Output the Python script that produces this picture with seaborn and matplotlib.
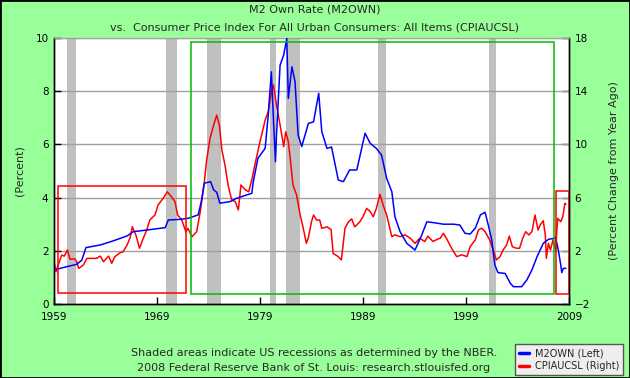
import matplotlib
matplotlib.use("Agg")
import matplotlib.pyplot as plt
import seaborn as sns
from matplotlib.patches import Rectangle
from matplotlib.lines import Line2D

# M2 own rate (left axis, percent)
m2_year = [1959.0, 1960.2, 1961.2, 1961.7, 1962.1, 1963.5, 1964.8, 1966.1, 1966.7, 1968.0,
           1969.8, 1970.1, 1971.2, 1972.0, 1973.0, 1973.3, 1973.6, 1974.2, 1974.5, 1974.8,
           1975.1, 1976.1, 1976.7, 1977.7, 1978.2, 1978.35, 1978.8, 1979.5, 1979.8, 1980.1,
           1980.3, 1980.5, 1980.6, 1980.95, 1981.3, 1981.6, 1981.75, 1982.1, 1982.4, 1982.7,
           1983.05, 1983.7, 1984.2, 1984.7, 1985.0, 1985.5, 1985.95, 1986.6, 1987.1, 1987.7,
           1988.4, 1989.2, 1989.7, 1990.3, 1990.8, 1991.3, 1991.8, 1992.1, 1992.6, 1993.25,
           1994.05, 1994.7, 1995.2, 1996.0, 1996.8, 1997.8, 1998.4, 1998.9, 1999.4, 1999.9,
           2000.4, 2000.85, 2001.2, 2001.5, 2001.8, 2002.1, 2002.8, 2003.3, 2003.6, 2004.4,
           2004.9, 2005.4, 2005.9, 2006.5, 2007.0, 2007.55, 2007.7, 2007.96, 2008.2, 2008.3,
           2008.45, 2008.7]
m2_rate = [1.28, 1.40, 1.49, 1.65, 2.12, 2.22, 2.38, 2.56, 2.72, 2.78,
           2.87, 3.16, 3.18, 3.22, 3.35, 3.85, 4.54, 4.60, 4.29, 4.20,
           3.79, 3.85, 3.97, 4.10, 4.16, 4.60, 5.48, 5.85, 7.10, 8.73,
           7.00, 5.35, 6.35, 8.98, 9.36, 9.99, 7.73, 8.92, 8.36, 6.35,
           5.92, 6.79, 6.85, 7.92, 6.48, 5.85, 5.90, 4.66, 4.60, 5.04,
           5.04, 6.42, 6.04, 5.85, 5.60, 4.72, 4.22, 3.28, 2.72, 2.28,
           2.03, 2.59, 3.09, 3.05, 3.00, 3.00, 2.97, 2.66, 2.63, 2.85,
           3.35, 3.45, 2.91, 2.41, 1.47, 1.18, 1.15, 0.78, 0.65, 0.65,
           0.90, 1.28, 1.78, 2.28, 2.43, 2.47, 2.50, 2.03, 1.47, 1.18,
           1.34, 1.34]

# CPI, percent change from year ago (right axis)
cpi_year = [1959.0, 1959.2, 1959.4, 1959.75, 1960.0, 1960.3, 1960.55, 1961.0, 1961.2, 1961.4,
            1961.85, 1962.2, 1963.1, 1963.5, 1963.8, 1964.3, 1964.6, 1964.9, 1965.4, 1965.7,
            1966.1, 1966.4, 1966.6, 1966.95, 1967.3, 1967.6, 1968.0, 1968.3, 1968.8, 1969.1,
            1969.6, 1970.0, 1970.4, 1970.75, 1971.0, 1971.4, 1971.8, 1972.0, 1972.4, 1972.85,
            1973.2, 1973.6, 1973.8, 1974.15, 1974.5, 1974.8, 1975.05, 1975.3, 1975.6, 1975.9,
            1976.25, 1976.6, 1976.9, 1977.15, 1977.55, 1977.9, 1978.2, 1978.5, 1979.0, 1979.5,
            1979.8, 1980.1, 1980.3, 1980.6, 1980.95, 1981.3, 1981.5, 1981.75, 1981.9, 1982.2,
            1982.55, 1982.9, 1983.2, 1983.5, 1983.7, 1984.0, 1984.2, 1984.5, 1984.8, 1985.0,
            1985.5, 1985.9, 1986.1, 1986.6, 1986.9, 1987.25, 1987.6, 1987.9, 1988.2, 1988.7,
            1989.0, 1989.35, 1989.7, 1990.0, 1990.3, 1990.65, 1990.95, 1991.3, 1991.6, 1991.8,
            1992.1, 1992.6, 1993.1, 1993.6, 1994.05, 1994.5, 1995.0, 1995.3, 1995.8, 1996.3,
            1996.5, 1996.8, 1997.1, 1997.6, 1998.1, 1998.6, 1999.1, 1999.4, 1999.9, 2000.2,
            2000.5, 2000.85, 2001.3, 2001.65, 2001.95, 2002.3, 2002.6, 2002.95, 2003.2, 2003.5,
            2003.9, 2004.2, 2004.5, 2004.8, 2005.1, 2005.4, 2005.7, 2006.0, 2006.2, 2006.5,
            2006.7, 2006.8, 2007.0, 2007.2, 2007.45, 2007.7, 2007.9, 2008.2, 2008.4, 2008.6,
            2008.7]
cpi_change = [1.18, 0.43, 0.93, 1.68, 1.60, 2.06, 1.36, 1.40, 1.18, 0.68,
              0.93, 1.43, 1.43, 1.60, 1.18, 1.60, 1.06, 1.55, 1.85, 1.93,
              2.44, 3.02, 3.81, 3.19, 2.19, 2.81, 3.56, 4.32, 4.69, 5.44,
              5.95, 6.44, 6.07, 5.69, 4.69, 4.32, 3.44, 3.69, 3.06, 3.44,
              4.94, 7.20, 8.70, 10.46, 11.46, 12.20, 11.46, 9.58, 8.45, 6.95,
              5.82, 5.70, 5.07, 6.95, 6.60, 6.44, 7.32, 8.45, 10.20, 11.83,
              12.46, 13.96, 14.47, 12.96, 11.46, 9.83, 10.95, 10.20, 9.20, 6.95,
              6.20, 4.69, 3.69, 2.56, 3.00, 4.19, 4.69, 4.31, 4.31, 3.69,
              3.80, 3.60, 1.81, 1.56, 1.31, 3.69, 4.19, 4.40, 3.80, 4.19,
              4.56, 5.19, 4.95, 4.56, 5.19, 6.25, 5.44, 4.69, 3.69, 3.06,
              3.20, 3.06, 3.20, 2.94, 2.56, 2.94, 2.70, 3.10, 2.70, 2.90,
              2.94, 3.32, 2.94, 2.19, 1.56, 1.70, 1.56, 2.31, 2.82, 3.56,
              3.70, 3.44, 2.82, 2.06, 1.31, 1.56, 2.06, 2.44, 3.11, 2.31,
              2.19, 2.19, 2.94, 3.44, 3.19, 3.44, 4.69, 3.56, 3.94, 4.26,
              3.19, 1.43, 2.56, 2.06, 2.82, 2.06, 4.44, 4.19, 4.56, 5.57,
              5.50]

# NBER recessions (start, end)
rec_start = [1960.25, 1969.9, 1973.85, 1980.0, 1981.5, 1990.5, 2001.2]
rec_end = [1961.1, 1970.9, 1975.2, 1980.55, 1982.9, 1991.2, 2001.9]

# highlight boxes drawn on the chart (left-axis units)
box_x0 = [1959.4, 1972.3, 2007.75]
box_x1 = [1971.8, 2007.5, 2008.97]
box_y0 = [0.40, 0.37, 0.36]
box_y1 = [4.44, 9.84, 4.24]
box_color = ['#ff0000', '#00bb00', '#ff0000']

x_ticks = [1959, 1969, 1979, 1989, 1999, 2009]
left_ticks = [0, 2, 4, 6, 8, 10]
right_ticks = [-2, 2, 6, 10, 14, 18]

sns.set_style('white')
plt.rcParams['font.family'] = ['DejaVu Sans']

bg = '#99ff99'
fig = plt.figure(figsize=(6.3, 3.78), dpi=100, facecolor=bg)
ax2 = fig.add_axes([54 / 630, 1 - 304 / 378, 515 / 630, 266 / 378])
ax2.set_facecolor('white')
ax2.yaxis.tick_right()
ax2.yaxis.set_label_position('right')
ax = fig.add_axes(ax2.get_position(), sharex=ax2)
ax.patch.set_visible(False)

# background layer (right axis units): recessions, grid, CPI line
for s, e in zip(rec_start, rec_end):
    ax2.axvspan(s, e, color='#c0c0c0', lw=0, zorder=1)
for g in right_ticks[1:]:
    ax2.axhline(g, color='#a0a0a0', lw=1, zorder=1.5)
sns.lineplot(x=cpi_year, y=cpi_change, ax=ax2, color='#ff0000', lw=1.1, zorder=3)
ax2.set_ylim(-2, 18)
ax2.set_yticks(right_ticks)

# front layer (left axis units): M2 line and highlight boxes
sns.lineplot(x=m2_year, y=m2_rate, ax=ax, color='#0000ff', lw=1.1, zorder=4)
for x0, x1, y0, y1, c in zip(box_x0, box_x1, box_y0, box_y1, box_color):
    ax.add_patch(Rectangle((x0, y0), x1 - x0, y1 - y0, fill=False, ec=c, lw=1.1, zorder=5))

ax.set_xlim(1959, 2009)
ax.set_ylim(0, 10)
ax.set_xticks(x_ticks)
ax.set_yticks(left_ticks)
ax.set_xlabel('')
ax2.set_xlabel('')

for a in (ax, ax2):
    a.tick_params(direction='in', length=5, width=1, labelsize=7.5, colors='black', pad=4)
    for side in ['left', 'right', 'bottom']:
        a.spines[side].set_color('black')
        a.spines[side].set_linewidth(1)
    a.spines['top'].set_color('#a0a0a0')
ax.tick_params(axis='y', left=True, right=False, labelleft=True, labelright=False)
ax.tick_params(axis='x', bottom=True, pad=6)
ax2.tick_params(axis='x', bottom=False, labelbottom=False)
ax2.tick_params(axis='y', right=True, left=False, labelright=True, labelleft=False)

ax.set_ylabel('(Percent)', fontsize=8, labelpad=8)
ax2.set_ylabel('(Percent Change from Year Ago)', fontsize=8, labelpad=14)

fig.text(0.5, 1 - 10 / 378, 'M2 Own Rate (M2OWN)', ha='center', va='center', fontsize=8)
fig.text(0.5, 1 - 27 / 378,
         'vs.  Consumer Price Index For All Urban Consumers: All Items (CPIAUCSL)',
         ha='center', va='center', fontsize=8)
fig.text(314 / 630, 1 - 353 / 378,
         'Shaded areas indicate US recessions as determined by the NBER.',
         ha='center', va='center', fontsize=8)
fig.text(314 / 630, 1 - 368 / 378,
         '2008 Federal Reserve Bank of St. Louis: research.stlouisfed.org',
         ha='center', va='center', fontsize=8)

handles = [Line2D([], [], color='#0000ff', lw=2.5), Line2D([], [], color='#ff0000', lw=2.5)]
leg = fig.legend(handles, ['M2OWN (Left)', 'CPIAUCSL (Right)'], loc='lower right',
                 bbox_to_anchor=(623 / 630, 3 / 378), fontsize=7, frameon=True,
                 fancybox=False, handlelength=1.0, handletextpad=0.6, borderpad=0.4,
                 labelspacing=0.3, borderaxespad=0)
leg.get_frame().set_facecolor('#eeeeee')
leg.get_frame().set_edgecolor('#555555')
leg.get_frame().set_alpha(1)

fig.add_artist(Rectangle((0, 0), 1, 1, transform=fig.transFigure, fill=False,
                         ec='black', lw=2))

fig.savefig('out.png', dpi=100, facecolor=bg)
